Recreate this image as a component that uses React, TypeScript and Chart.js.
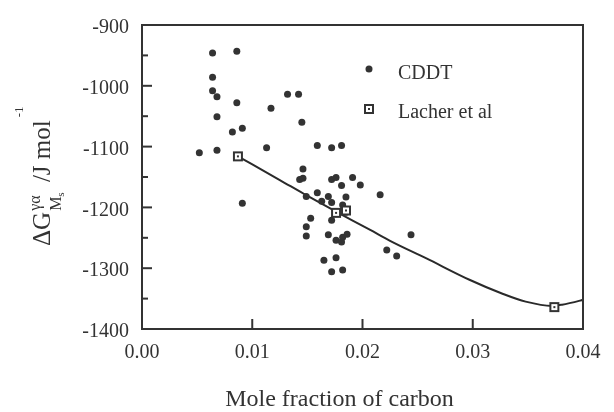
import React, { useEffect, useRef } from "react";
import { Chart, registerables } from "chart.js";

Chart.register(...registerables);

// CDDT measurements (mole fraction of carbon, ΔG in J/mol)
const cddtX = [
  0.0064, 0.0086, 0.0064, 0.0064, 0.0068, 0.0086, 0.0117, 0.0068, 0.0082, 0.0091,
  0.0132, 0.0142, 0.0145, 0.0052, 0.0068, 0.0113, 0.0091,
  0.0159, 0.0172, 0.0181, 0.0146, 0.0143, 0.0146, 0.0172, 0.0176, 0.0191, 0.0181,
  0.0198, 0.0216, 0.0149, 0.0159, 0.0169, 0.0163, 0.0172, 0.0185, 0.0182, 0.0185,
  0.0153, 0.0149, 0.0149, 0.0172, 0.0169, 0.0176, 0.0181, 0.0182, 0.0186, 0.0222,
  0.0165, 0.0176, 0.0172, 0.0182, 0.0244, 0.0231,
];
const cddtY = [
  -946, -943, -986, -1008, -1018, -1028, -1037, -1051, -1076, -1070,
  -1014, -1014, -1060, -1110, -1106, -1102, -1193,
  -1098, -1102, -1098, -1137, -1154, -1152, -1154, -1151, -1151, -1164,
  -1163, -1179, -1182, -1176, -1182, -1190, -1192, -1183, -1196, -1208,
  -1218, -1232, -1247, -1221, -1245, -1254, -1257, -1249, -1244, -1270,
  -1287, -1283, -1306, -1303, -1245, -1280,
];

// Lacher et al points
const lacherX = [0.0087, 0.0176, 0.0185, 0.0374];
const lacherY = [-1116, -1209, -1205, -1364];

// Lacher et al fitted curve
const curveX = [0.0087, 0.0125, 0.0149, 0.0176, 0.0207, 0.0225, 0.0258, 0.0297, 0.0327, 0.0348, 0.0372, 0.0381, 0.0398, 0.04];
const curveY = [-1116, -1155, -1180, -1207, -1237, -1255, -1284, -1319, -1342, -1355, -1362, -1360, -1353, -1352];

const seriesNames = ["CDDT", "Lacher et al"];
const xTitle = "Mole fraction of carbon";

const INK = "#333";
const SERIF = '"Liberation Serif", "Times New Roman", serif';

function makeSquareMarker(): HTMLCanvasElement {
  const c = document.createElement("canvas");
  c.width = 12;
  c.height = 12;
  const g = c.getContext("2d")!;
  g.fillStyle = "#fff";
  g.fillRect(1, 1, 10, 10);
  g.strokeStyle = INK;
  g.lineWidth = 2;
  g.strokeRect(2, 2, 8, 8);
  g.fillStyle = INK;
  g.fillRect(5, 5, 2, 2);
  return c;
}

const decorPlugin = {
  id: "decor",
  afterDraw(chart: any) {
    const { ctx, chartArea, scales } = chart;
    const { left, right, top, bottom } = chartArea;
    const x = scales.x;
    const y = scales.y;
    ctx.save();
    ctx.strokeStyle = INK;
    ctx.lineWidth = 2;
    ctx.strokeRect(left, top, right - left, bottom - top);
    // y ticks (inside)
    for (let v = -1400; v <= -900; v += 50) {
      const py = y.getPixelForValue(v);
      const len = v % 100 === 0 ? 10 : 6;
      ctx.beginPath();
      ctx.moveTo(left, py);
      ctx.lineTo(left + len, py);
      ctx.stroke();
    }
    // x ticks (inside)
    for (const v of [0.01, 0.02, 0.03]) {
      const px = x.getPixelForValue(v);
      ctx.beginPath();
      ctx.moveTo(px, bottom);
      ctx.lineTo(px, bottom - 10);
      ctx.stroke();
    }
    ctx.fillStyle = INK;
    // x title
    ctx.font = `24px ${SERIF}`;
    ctx.textAlign = "center";
    ctx.textBaseline = "alphabetic";
    ctx.fillText(xTitle, (left + right) / 2 - 23, bottom + 77);

    // y title, rotated
    ctx.save();
    ctx.translate(left - 92, top + 221);
    ctx.rotate(-Math.PI / 2);
    ctx.textAlign = "left";
    let cx = 0;
    ctx.font = `25px ${SERIF}`;
    ctx.fillText("ΔG", cx, 0);
    cx += ctx.measureText("ΔG").width + 1;
    ctx.font = `16px ${SERIF}`;
    ctx.fillText("γα", cx, -10);
    const w1 = ctx.measureText("γα").width;
    ctx.fillText("M", cx, 11);
    const wm = ctx.measureText("M").width;
    ctx.font = `11px ${SERIF}`;
    ctx.fillText("s", cx + wm, 14);
    const w2 = wm + ctx.measureText("s").width;
    cx += Math.max(w1, w2) + 4;
    ctx.font = `25px ${SERIF}`;
    ctx.fillText(" /J mol", cx, 0);
    cx += ctx.measureText(" /J mol").width;
    ctx.font = `13px ${SERIF}`;
    ctx.fillText("-1", cx + 3, -27);
    ctx.restore();

    // legend
    ctx.font = `20px ${SERIF}`;
    ctx.textAlign = "left";
    ctx.fillStyle = INK;
    ctx.beginPath();
    ctx.arc(left + 227, top + 44, 3.5, 0, Math.PI * 2);
    ctx.fill();
    ctx.fillText(seriesNames[0], left + 256, top + 54);
    const m = makeSquareMarker();
    ctx.drawImage(m, left + 227 - 6, top + 84 - 6);
    ctx.fillText(seriesNames[1], left + 256, top + 93);
    ctx.restore();
  },
};

export default function App() {
  const ref = useRef<HTMLCanvasElement>(null);
  useEffect(() => {
    document.body.style.margin = "0";
    const marker = makeSquareMarker();
    const chart = new Chart(ref.current!, {
      type: "scatter",
      data: {
        datasets: [
          {
            label: "curve",
            data: curveX.map((v, i) => ({ x: v, y: curveY[i] })),
            showLine: true,
            borderColor: "#2a2a2a",
            borderWidth: 2,
            pointRadius: 0,
            cubicInterpolationMode: "monotone",
            order: 3,
          },
          {
            label: seriesNames[0],
            data: cddtX.map((v, i) => ({ x: v, y: cddtY[i] })),
            backgroundColor: INK,
            borderWidth: 0,
            pointRadius: 3.5,
            order: 2,
          },
          {
            label: seriesNames[1],
            data: lacherX.map((v, i) => ({ x: v, y: lacherY[i] })),
            pointStyle: marker as any,
            pointRadius: 6,
            order: 1,
          },
        ],
      },
      options: {
        responsive: false,
        animation: false,
        layout: { padding: { left: 0, right: 31, top: 13, bottom: 0 } },
        plugins: { legend: { display: false }, tooltip: { enabled: false } },
        scales: {
          x: {
            type: "linear",
            min: 0,
            max: 0.04,
            grid: { display: false, drawTicks: false },
            border: { display: false },
            ticks: {
              stepSize: 0.01,
              padding: 12,
              color: INK,
              font: { family: SERIF, size: 20 },
              callback: (v: any) => Number(v).toFixed(2),
            },
            afterFit: (s: any) => {
              s.height = 83;
            },
          },
          y: {
            type: "linear",
            min: -1400,
            max: -900,
            grid: { display: false, drawTicks: false },
            border: { display: false },
            ticks: {
              stepSize: 100,
              padding: 13,
              labelOffset: 3,
              color: INK,
              font: { family: SERIF, size: 20 },
              callback: (v: any) => String(Math.round(Number(v))),
            },
            afterFit: (s: any) => {
              s.width = 142;
            },
          },
        },
      },
      plugins: [decorPlugin],
    });
    return () => chart.destroy();
  }, []);
  return <canvas ref={ref} width={614} height={412} />;
}
